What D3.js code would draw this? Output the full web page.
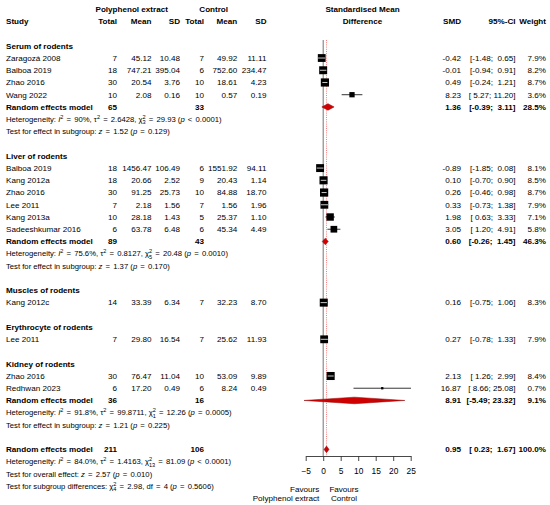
<!DOCTYPE html>
<html><head><meta charset="utf-8">
<script src="https://cdn.jsdelivr.net/npm/d3@7"></script>
<style>
body{margin:0;background:#fff}
text{font-family:"Liberation Sans",Arial,Helvetica,sans-serif;fill:#000}
</style>
</head><body>
<svg id="chart" width="550" height="505"></svg>
<script>
// ---------- DATA ----------
const groupNames = ["Serum of rodents","Liver of rodents","Muscles of rodents","Erythrocyte of rodents","Kidney of rodents"];
const studies = ["Zaragozá 2008","Balboa 2019","Zhao 2016","Wang 2022",
  "Balboa 2019","Kang 2012a","Zhao 2016","Lee 2011","Kang 2013a","Sadeeshkumar 2016",
  "Kang 2012c","Lee 2011","Zhao 2016","Redhwan 2023"];
const studyGroup = [0,0,0,0,1,1,1,1,1,1,2,3,4,4];
const expTotal = [7,18,30,10,18,18,30,7,10,6,14,7,30,6];
const expMean = [45.12,747.21,20.54,2.08,1456.47,20.66,91.25,2.18,28.18,63.78,33.39,29.80,76.47,17.20];
const expSD = [10.48,395.04,3.76,0.16,106.49,2.52,25.73,1.56,1.43,6.48,6.34,16.54,11.04,0.49];
const ctlTotal = [7,6,10,10,6,9,10,7,5,6,7,7,10,6];
const ctlMean = [49.92,752.60,18.61,0.57,1551.92,20.43,84.88,1.56,25.37,45.34,32.23,25.62,53.09,8.24];
const ctlSD = [11.11,234.47,4.23,0.19,94.11,1.14,18.70,1.96,1.10,4.49,8.70,11.93,9.89,0.49];
const smd = [-0.42,-0.01,0.49,8.23,-0.89,0.10,0.26,0.33,1.98,3.05,0.16,0.27,2.13,16.87];
const ciLo = [-1.48,-0.94,-0.24,5.27,-1.85,-0.70,-0.46,-0.73,0.63,1.20,-0.75,-0.78,1.26,8.66];
const ciHi = [0.65,0.91,1.21,11.20,0.08,0.90,0.98,1.38,3.33,4.91,1.06,1.33,2.99,25.08];
const weight = [7.9,8.2,8.7,3.6,8.1,8.5,8.7,7.9,7.1,5.8,8.3,7.9,8.4,0.7];

// subgroup random effects (null = single-study subgroup)
const groupExpTotal = [65,89,null,null,36];
const groupCtlTotal = [33,43,null,null,16];
const groupSMD = [1.36,0.60,null,null,8.91];
const groupLo = [-0.39,-0.26,null,null,-5.49];
const groupHi = [3.11,1.45,null,null,23.32];
const groupWeight = [28.5,46.3,null,null,9.1];
const groupI2 = ["90%","75.6%",null,null,"91.8%"];
const groupTau2 = ["2.6428","0.8127",null,null,"99.8711"];
const groupQ = ["29.93","20.48",null,null,"12.26"];
const groupDf = ["3","5",null,null,"1"];
const groupQp = ["< 0.0001","= 0.0010",null,null,"= 0.0005"];
const groupZ = ["1.52","1.37",null,null,"1.21"];
const groupZp = ["0.129","0.170",null,null,"0.225"];

// overall
const overallTotals = [211,106];
const overallEst = [0.95,0.23,1.67];   // SMD, lower, upper
const overallWeight = 100.0;
const overallHet = ["84.0%","1.4163","81.09","13","< 0.0001"];
const overallTest = ["2.57","0.010"];
const subgroupTest = ["2.98","4","0.5606"];

const xTicks = [-5,0,5,10,15,20,25];
const colHeads = ["Total","Mean","SD","Total","Mean","SD"];

// ---------- LAYOUT ----------
const svg = d3.select("#chart");
const y0 = 9.1, rowH = 12.23;
const rowY = i => y0 + i*rowH;
const FS = 8.1, FSS = 7.7, FSUP = 5.6;
const colX = [117,151.5,180,204,237.3,266.5];
const xSMD = 461, xCI = 515.5, xW = 546;
const x = d3.scaleLinear().domain([-5,25]).range([305.7,410.7]);
const axisY = 456;
const topY = 40;

function txt(xp, row, s, opt={}) {
  const t = svg.append("text").attr("x",xp).attr("y",rowY(row)).attr("dy","0.35em")
    .style("font-size",(opt.fs||FS)+"px").text(s);
  if (opt.bold) t.style("font-weight","bold");
  if (opt.anchor) t.attr("text-anchor",opt.anchor);
  if (opt.pre) t.attr("xml:space","preserve").style("white-space","pre");
  return t;
}
// stat line: plain segments; "=" / "<" relations get a little extra room like plotmath
function stat(row, parts) {
  const t = svg.append("text").attr("x",6).attr("y",rowY(row)).attr("dy","0.35em")
    .style("font-size",FSS+"px").attr("xml:space","preserve").style("white-space","pre");
  let off = 0, lastSupW = 0;
  parts.forEach(p => {
    if (p.sup !== undefined) {
      t.append("tspan").attr("dy",(-3.2-off)).style("font-size",FSUP+"px").text(p.sup);
      off = -3.2; lastSupW = p.sup.length*FSUP*0.556;
    } else if (p.sub !== undefined) {
      t.append("tspan").attr("dx",-lastSupW).attr("dy",(2.6-off)).style("font-size",FSUP+"px").text(p.sub);
      off = 2.6;
    } else {
      const pieces = p.t.split(/( [=<] )/);
      pieces.forEach((pc,k) => {
        if (pc === "") return;
        const ts = t.append("tspan").text(pc);
        if (off !== 0) { ts.attr("dy",-off); off = 0; }
        if (p.i) ts.style("font-style","italic");
        if (/^ [=<] $/.test(pc)) ts.attr("dx",1);
        if (k>0 && /^ [=<] $/.test(pieces[k-1])) ts.attr("dx",1);
      });
    }
  });
}
const f2 = v => v.toFixed(2);
const pad = (s,n) => " ".repeat(Math.max(0,n-s.length)) + s;
function ciStr(lo,hi){ return "[" + pad(f2(lo),5) + "; " + pad(f2(hi),5) + "]"; }

// ---------- HEADER ----------
txt(131.7,0,"Polyphenol extract",{bold:true,anchor:"middle"});
txt(213.7,0,"Control",{bold:true,anchor:"middle"});
txt(6,1,"Study",{bold:true});
colHeads.forEach((h,i)=>txt(colX[i],1,h,{bold:true,anchor:"end"}));
txt(362.5,0,"Standardised Mean",{bold:true,anchor:"middle"});
txt(362.5,1,"Difference",{bold:true,anchor:"middle"});
txt(xSMD,1,"SMD",{bold:true,anchor:"end"});
txt(xCI,1,"95%-CI",{bold:true,anchor:"end"});
txt(xW,1,"Weight",{bold:true,anchor:"end"});

// ---------- REFERENCE LINES ----------
svg.append("line").attr("x1",x(0)).attr("x2",x(0)).attr("y1",topY).attr("y2",axisY)
  .attr("stroke","#808080").attr("stroke-width",1.1);
svg.append("line").attr("x1",x(overallEst[0])).attr("x2",x(overallEst[0])).attr("y1",topY).attr("y2",axisY)
  .attr("stroke","#f06060").attr("stroke-width",0.8).attr("stroke-dasharray","1,1.2");

// ---------- MARKS ----------
const maxBox = 8.2;
const maxW = d3.max(weight);
const boxSize = w => maxBox*Math.sqrt(w/maxW);
const diamondH = 6.6;

function drawStudy(i,row){
  const cy = rowY(row);
  const s = boxSize(weight[i]);
  const xl = x(ciLo[i]), xh = x(ciHi[i]), xc = x(smd[i]);
  svg.append("line").attr("x1",xl).attr("x2",xh).attr("y1",cy).attr("y2",cy).attr("stroke","#000").attr("stroke-width",0.8);
  svg.append("rect").attr("x",xc-s/2).attr("y",cy-s/2).attr("width",s).attr("height",s).attr("fill","#000");
  if (xl > xc-s/2 && xh < xc+s/2) {
    svg.append("line").attr("x1",xl).attr("x2",xh).attr("y1",cy).attr("y2",cy).attr("stroke","#fff").attr("stroke-width",0.8);
  }
}
function drawDiamond(est,lo,hi,row){
  const cy = rowY(row);
  const pts = [[x(lo),cy],[x(est),cy-diamondH/2],[x(hi),cy],[x(est),cy+diamondH/2]];
  svg.append("path").attr("d",d3.line()(pts)+"Z").attr("fill","#d00000").attr("stroke","#8b0000").attr("stroke-width",0.5);
}

// ---------- ROWS ----------
let row = 3;
groupNames.forEach((g,gi)=>{
  txt(6,row,g,{bold:true});
  row++;
  studies.forEach((s,i)=>{
    if (studyGroup[i]!==gi) return;
    txt(6,row,s);
    txt(colX[0],row,String(expTotal[i]),{anchor:"end"});
    txt(colX[1],row,f2(expMean[i]),{anchor:"end"});
    txt(colX[2],row,f2(expSD[i]),{anchor:"end"});
    txt(colX[3],row,String(ctlTotal[i]),{anchor:"end"});
    txt(colX[4],row,f2(ctlMean[i]),{anchor:"end"});
    txt(colX[5],row,f2(ctlSD[i]),{anchor:"end"});
    txt(xSMD,row,f2(smd[i]),{anchor:"end"});
    txt(xCI,row,ciStr(ciLo[i],ciHi[i]),{anchor:"end",pre:true});
    txt(xW,row,weight[i].toFixed(1)+"%",{anchor:"end"});
    drawStudy(i,row);
    row++;
  });
  if (groupSMD[gi]!==null){
    txt(6,row,"Random effects model",{bold:true});
    txt(colX[0],row,String(groupExpTotal[gi]),{bold:true,anchor:"end"});
    txt(colX[3],row,String(groupCtlTotal[gi]),{bold:true,anchor:"end"});
    txt(xSMD,row,f2(groupSMD[gi]),{bold:true,anchor:"end"});
    txt(xCI,row,ciStr(groupLo[gi],groupHi[gi]),{bold:true,anchor:"end",pre:true});
    txt(xW,row,groupWeight[gi].toFixed(1)+"%",{bold:true,anchor:"end"});
    drawDiamond(groupSMD[gi],groupLo[gi],groupHi[gi],row);
    row++;
    stat(row,[{t:"Heterogeneity: "},{t:"I",i:true},{sup:"2"},{t:" = "+groupI2[gi]+", τ"},{sup:"2"},
      {t:" = "+groupTau2[gi]+", χ"},{sup:"2"},{sub:groupDf[gi]},{t:" = "+groupQ[gi]+" ("},{t:"p",i:true},
      {t:" "+groupQp[gi]+")"}]);
    row++;
    stat(row,[{t:"Test for effect in subgroup: "},{t:"z",i:true},{t:" = "+groupZ[gi]+" ("},{t:"p",i:true},{t:" = "+groupZp[gi]+")"}]);
    row++;
  }
  row++;
});

// overall
txt(6,row,"Random effects model",{bold:true});
txt(colX[0],row,String(overallTotals[0]),{bold:true,anchor:"end"});
txt(colX[3],row,String(overallTotals[1]),{bold:true,anchor:"end"});
txt(xSMD,row,f2(overallEst[0]),{bold:true,anchor:"end"});
txt(xCI,row,ciStr(overallEst[1],overallEst[2]),{bold:true,anchor:"end",pre:true});
txt(xW,row,overallWeight.toFixed(1)+"%",{bold:true,anchor:"end"});
drawDiamond(overallEst[0],overallEst[1],overallEst[2],row);
row++;
stat(row,[{t:"Heterogeneity: "},{t:"I",i:true},{sup:"2"},{t:" = "+overallHet[0]+", τ"},{sup:"2"},
  {t:" = "+overallHet[1]+", χ"},{sup:"2"},{sub:overallHet[3]},{t:" = "+overallHet[2]+" ("},{t:"p",i:true},
  {t:" "+overallHet[4]+")"}]);
row++;
stat(row,[{t:"Test for overall effect: "},{t:"z",i:true},{t:" = "+overallTest[0]+" ("},{t:"p",i:true},{t:" = "+overallTest[1]+")"}]);
row++;
stat(row,[{t:"Test for subgroup differences: χ"},{sup:"2"},{sub:subgroupTest[1]},{t:" = "+subgroupTest[0]+", df = "+subgroupTest[1]+" ("},{t:"p",i:true},{t:" = "+subgroupTest[2]+")"}]);

// ---------- AXIS ----------
const ax = svg.append("g").attr("transform",`translate(0,${axisY})`)
  .call(d3.axisBottom(x).tickValues(xTicks).tickSize(5).tickSizeOuter(0).tickPadding(7.5).tickFormat(d3.format("d")));
ax.select(".domain").attr("stroke","#333").attr("stroke-width",0.9);
ax.selectAll(".tick line").attr("stroke","#333").attr("stroke-width",0.9);
ax.selectAll(".tick text").style("font-size","8.4px").style("font-family","'Liberation Sans',Arial,sans-serif").attr("fill","#000");

// favours labels
svg.append("text").attr("x",319.3).attr("y",489).attr("dy","0.35em").attr("text-anchor","end").style("font-size",FS+"px").text("Favours");
svg.append("text").attr("x",319.3).attr("y",498.3).attr("dy","0.35em").attr("text-anchor","end").style("font-size",FS+"px").text("Polyphenol extract");
svg.append("text").attr("x",344).attr("y",489).attr("dy","0.35em").attr("text-anchor","middle").style("font-size",FS+"px").text("Favours");
svg.append("text").attr("x",344).attr("y",498.3).attr("dy","0.35em").attr("text-anchor","middle").style("font-size",FS+"px").text("Control");
</script>
</body></html>
